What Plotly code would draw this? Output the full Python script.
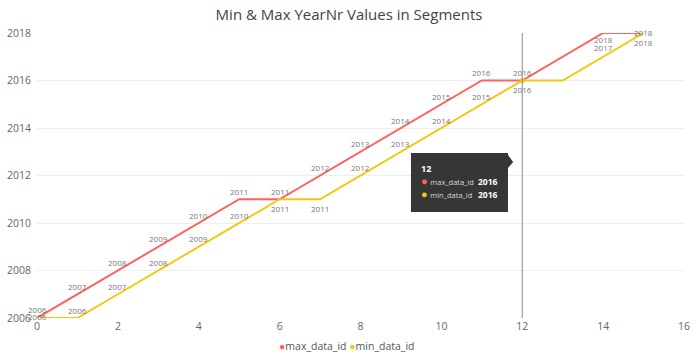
import plotly.graph_objects as go

x_idx = list(range(16))
max_data_id = [2006, 2007, 2008, 2009, 2010, 2011, 2011, 2012, 2013, 2014, 2015, 2016, 2016, 2017, 2018, 2018]
min_data_id = [2006, 2006, 2007, 2008, 2009, 2010, 2011, 2011, 2012, 2013, 2014, 2015, 2016, 2016, 2017, 2018]
# data labels shown by the chart (blank = hidden by the chart)
max_labels = ["2006", "2007", "2008", "2009", "2010", "2011", "2011", "2012", "2013", "2014", "2015", "2016", "2016", "", "2018", "2018"]
min_labels = ["2006", "2006", "2007", "2008", "2009", "2010", "2011", "2011", "2012", "2013", "2014", "2015", "2016", "", "2017", "2018"]
hover_x = 12
tooltip_title = "12"
tooltip_max = 2016
tooltip_min = 2016
series_names = ["max_data_id", "min_data_id"]

# styling: vertical offset (px) of each data label from its point
max_shift = [9, 8, 8, 8, 8, 8, 8, 8, 8, 8, 8, 8, 8, 0, -6, 1]
min_shift = [2, 8, 8, 8, 8, 8, -9, -9, 8, 8, 8, 8, -9, 0, 9, -9]

RED = "#FD625E"
YEL = "#F2C80F"
FONT = "Segoe UI, Open Sans, sans-serif"

fig = go.Figure()
fig.add_trace(go.Scatter(x=x_idx, y=max_data_id, mode="lines",
                         line=dict(color=RED, width=2), showlegend=False, cliponaxis=False,
                         name=series_names[0], hoverinfo="skip"))
fig.add_trace(go.Scatter(x=x_idx, y=min_data_id, mode="lines",
                         line=dict(color=YEL, width=2), showlegend=False, cliponaxis=False,
                         name=series_names[1], hoverinfo="skip"))
# hover crosshair point
fig.add_trace(go.Scatter(x=[hover_x], y=[min_data_id[hover_x]], mode="markers",
                         marker=dict(color=YEL, size=5), showlegend=False, cliponaxis=False,
                         hoverinfo="skip"))

for xs, ys, labs, shifts in [(x_idx, max_data_id, max_labels, max_shift),
                             (x_idx, min_data_id, min_labels, min_shift)]:
    for xv, yv, lab, sh in zip(xs, ys, labs, shifts):
        if lab:
            fig.add_annotation(x=xv, y=yv, text=lab, showarrow=False, yshift=sh,
                               xanchor="center", yanchor="middle",
                               font=dict(family=FONT, size=8, color="#777"))

fig.add_shape(type="line", xref="x", yref="paper", x0=hover_x, x1=hover_x, y0=0, y1=1.0,
              line=dict(color="#888", width=1))

# tooltip box with arrow
fig.add_shape(type="path", xref="paper", yref="paper",
              path="M 0.578 0.579 L 0.728 0.579 L 0.728 0.572 L 0.736 0.547 L 0.728 0.526 "
                   "L 0.728 0.372 L 0.578 0.372 Z",
              fillcolor="#363636", line=dict(width=0), layer="above")
fig.add_annotation(xref="paper", yref="paper", x=0.590, y=0.556, xanchor="left", yanchor="top",
                   showarrow=False, align="left",
                   font=dict(family=FONT, size=10, color="#d8d8d8"),
                   text=(f"<b style='color:#fff;font-size:9px'>{tooltip_title}</b><br>"
                         f"<span style='color:{RED};font-size:11px'>●</span> <span style='font-size:7.5px'>{series_names[0]}</span><br>"
                         f"<span style='color:{YEL};font-size:11px'>●</span> <span style='font-size:7.5px'>{series_names[1]}</span>"))
fig.add_annotation(xref="paper", yref="paper", x=0.716, y=0.556, xanchor="right", yanchor="top",
                   showarrow=False, align="right",
                   font=dict(family=FONT, size=10, color="#fff"),
                   text=(f"<span style='font-size:9px'> </span><br>"
                         f"<b style='font-size:8.5px'>{tooltip_max}</b><br>"
                         f"<b style='font-size:8.5px'>{tooltip_min}</b>"))

# legend (Power BI style: dot right next to the name)
fig.add_annotation(xref="paper", yref="paper", x=0.479, y=-0.098, xanchor="center", yanchor="middle",
                   showarrow=False, font=dict(family=FONT, size=10.5, color="#555"),
                   text=(f"<span style='color:{RED}'>●</span>{series_names[0]} "
                         f"<span style='color:{YEL}'>●</span>{series_names[1]}"))

fig.update_layout(
    width=698, height=358,
    margin=dict(l=37, r=14, t=33, b=40, autoexpand=False),
    paper_bgcolor="white", plot_bgcolor="white",
    font=dict(family=FONT, color="#666"),
    showlegend=False,
    hovermode=False,
    title=dict(text="Min & Max YearNr Values in Segments", x=0.5, xref="container", xanchor="center",
               y=0.958, yanchor="middle", font=dict(size=15, color="#444", family=FONT)),
    xaxis=dict(range=[0, 16], tickvals=list(range(0, 17, 2)), showgrid=False, zeroline=False,
               showline=False, tickfont=dict(size=10.5, color="#666"), ticks="", automargin=False),
    yaxis=dict(range=[2006, 2018], tickvals=list(range(2006, 2019, 2)), showgrid=True,
               gridcolor="#eeeeee", zeroline=False, showline=False,
               tickfont=dict(size=10.5, color="#666"), ticks="", ticklabelstandoff=5, automargin=False),
)

fig.write_html("out.html", config={"displayModeBar": False},
               post_script="document.body.style.margin='0';")
